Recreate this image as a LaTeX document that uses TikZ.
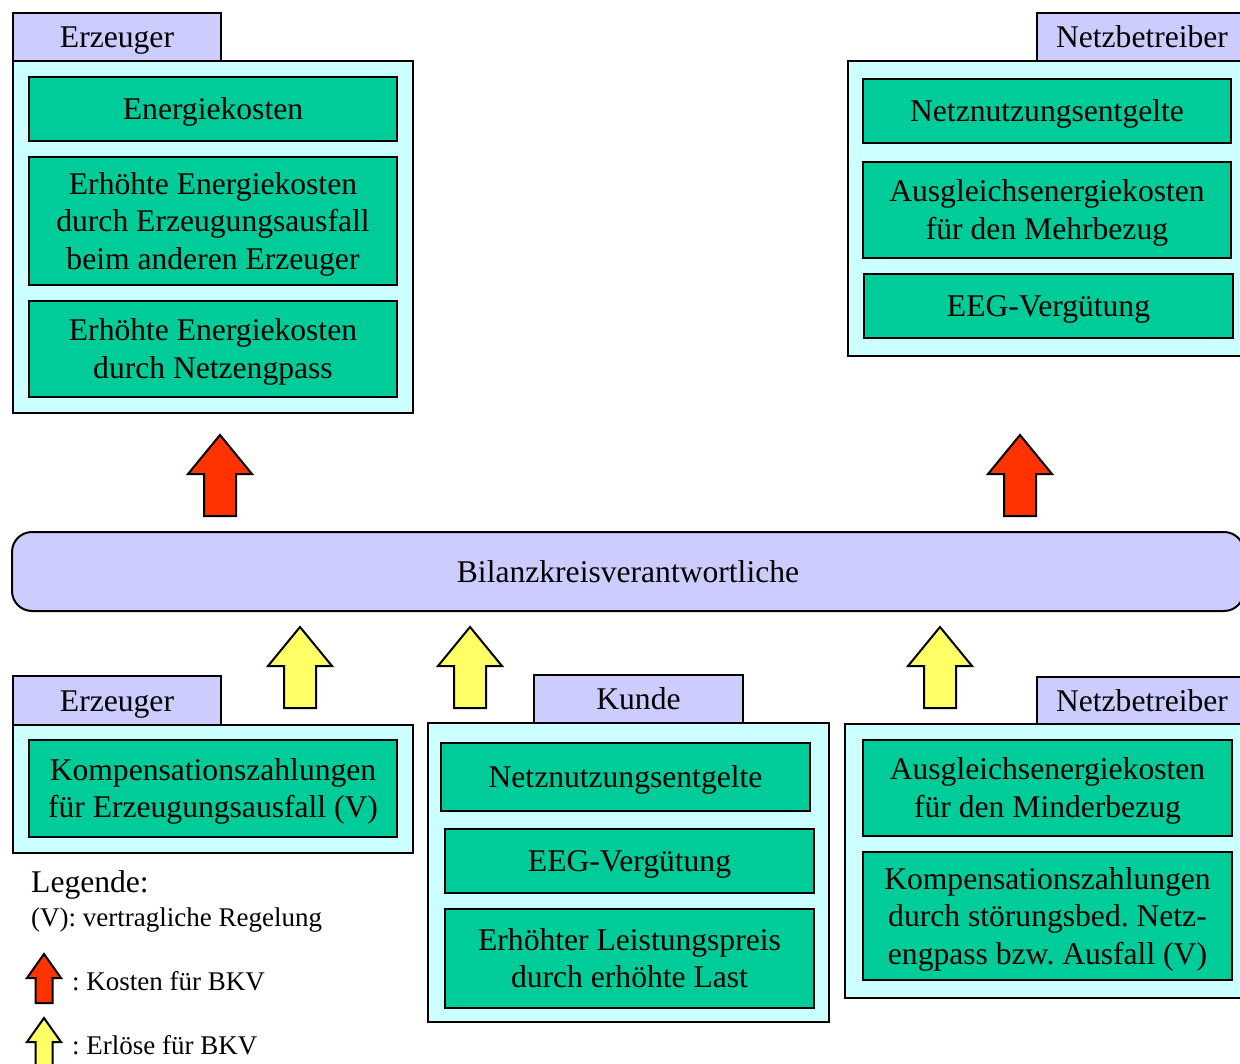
\documentclass[tikz,border=0pt]{standalone}
\usepackage{fontspec}
\setmainfont{Liberation Serif}
\frenchspacing
\definecolor{lila}{HTML}{CCCCFF}
\definecolor{hellblau}{HTML}{CCFFFF}
\definecolor{gruen}{HTML}{00CC99}
\definecolor{rot}{HTML}{FF3300}
\definecolor{gelb}{HTML}{FFFF66}
\newcommand\zeilen[1]{\rule{0pt}{0.891em}#1\rule[-0.216em]{0pt}{0pt}}
\tikzset{
  zeile/.style={execute at begin node={\rule{0pt}{0.891em}}, execute at end node={\rule[-0.216em]{0pt}{0pt}}},
  reiter/.style={draw, line width=2pt, fill=lila, anchor=north west, inner sep=0pt, zeile,
    font=\fontsize{31.6}{37.5}\selectfont},
  rahmen/.style={draw, line width=2pt, fill=hellblau, anchor=north west, inner sep=0pt},
  feld/.style={draw, line width=2pt, fill=gruen, anchor=north west, inner sep=0pt, align=center,
    font=\fontsize{31.6}{37.5}\selectfont},
  balken/.style={draw, line width=2pt, fill=lila, rounded corners=20pt, inner sep=0pt, zeile,
    font=\fontsize{31.6}{37.5}\selectfont},
  kosten/.style={draw, line width=2pt, fill=rot, line join=miter},
  erloes/.style={draw, line width=2pt, fill=gelb, line join=miter},
  legende/.style={anchor=west, inner sep=0pt, zeile, font=\fontsize{27}{32}\selectfont}
}
\begin{document}
\begin{tikzpicture}[x=1pt, y=-1pt]
  \useasboundingbox (0,0) rectangle (1240,1064);
  \clip (0,0) rectangle (1240,1064);
      %Erzeuger oben
  \node[reiter, minimum width=208pt, minimum height=48pt] (erzT) at (12,12) {Erzeuger};
  \node[rahmen, minimum width=400pt, minimum height=352pt] (erzR) at (12,60) {};
  \node[feld, minimum width=368pt, minimum height=64pt] (ek) at (28,76) {\zeilen{Energiekosten}};
  \node[feld, minimum width=368pt, minimum height=128pt] (ekA) at (28,156) {\zeilen{Erhöhte Energiekosten\\durch Erzeugungsausfall\\beim anderen Erzeuger}};
  \node[feld, minimum width=368pt, minimum height=96pt] (ekN) at (28,300) {\zeilen{Erhöhte Energiekosten\\durch Netzengpass}};
      %Netzbetreiber oben
  \node[reiter, minimum width=210pt, minimum height=48pt] (nbT) at (1036,12) {Netzbetreiber};
  \node[rahmen, minimum width=400pt, minimum height=295pt] (nbR) at (847,60) {};
  \node[feld, minimum width=368pt, minimum height=64pt] (nne) at (862,78) {\zeilen{Netznutzungsentgelte}};
  \node[feld, minimum width=368pt, minimum height=96pt] (ausM) at (862,161) {\zeilen{Ausgleichsenergiekosten\\für den Mehrbezug}};
  \node[feld, minimum width=369pt, minimum height=64pt] (eeg) at (863,273) {\zeilen{EEG-Vergütung}};
      %Pfeile Kosten
  \foreach \x in {220,1020}
    \draw[kosten] ({\x-16},516) -- ++(0,-42) -- ++(-16,0) -- (\x,435) -- ++(32,39) -- ++(-16,0) -- ++(0,42) -- cycle;
      %Bilanzkreisverantwortliche
  \node[balken, minimum width=1232pt, minimum height=79pt] (bkv) at (628,571.5) {Bilanzkreisverantwortliche};
      %Pfeile Erloese
  \foreach \x in {300,470,940}
    \draw[erloes] ({\x-16},708) -- ++(0,-42) -- ++(-16,0) -- (\x,627) -- ++(32,39) -- ++(-16,0) -- ++(0,42) -- cycle;
      %Erzeuger unten
  \node[reiter, minimum width=208pt, minimum height=49pt] (erzT2) at (12,675) {Erzeuger};
  \node[rahmen, minimum width=400pt, minimum height=128pt] (erzR2) at (12,724) {};
  \node[feld, minimum width=368pt, minimum height=97pt] (komp) at (28,739) {\zeilen{Kompensationszahlungen\\für Erzeugungsausfall (V)}};
      %Kunde
  \node[reiter, minimum width=209pt, minimum height=48pt] (kuT) at (533,674) {Kunde};
  \node[rahmen, minimum width=401pt, minimum height=299pt] (kuR) at (427,722) {};
  \node[feld, minimum width=369pt, minimum height=68pt] (nne2) at (440,742) {\zeilen{Netznutzungsentgelte}};
  \node[feld, minimum width=369pt, minimum height=64pt] (eeg2) at (444,828) {\zeilen{EEG-Vergütung}};
  \node[feld, minimum width=369pt, minimum height=99pt] (lp) at (444,908) {\zeilen{Erhöhter Leistungspreis\\durch erhöhte Last}};
      %Netzbetreiber unten
  \node[reiter, minimum width=210pt, minimum height=47pt] (nbT2) at (1036,676) {Netzbetreiber};
  \node[rahmen, minimum width=402pt, minimum height=274pt] (nbR2) at (844,723) {};
  \node[feld, minimum width=369pt, minimum height=96pt] (ausMi) at (862,739) {\zeilen{Ausgleichsenergiekosten\\für den Minderbezug}};
  \node[feld, minimum width=369pt, minimum height=128pt] (kompN) at (862,851) {\zeilen{Kompensationszahlungen\\durch störungsbed. Netz-\\engpass bzw. Ausfall (V)}};
      %Legende
  \node[legende, font=\fontsize{31.6}{37.5}\selectfont] (leg) at (31,882) {Legende:};
  \node[legende] (legV) at (31,917) {(V): vertragliche Regelung};
  \draw[kosten] (35.5,1003) -- (35.5,978) -- (27,978) -- (44,954) -- (61,978) -- (52.5,978) -- (52.5,1003) -- cycle;
  \node[legende] (legK) at (72,981) {: Kosten für BKV};
  \draw[erloes] (35.5,1067) -- (35.5,1042) -- (27,1042) -- (44,1018) -- (61,1042) -- (52.5,1042) -- (52.5,1067) -- cycle;
  \node[legende] (legE) at (72,1045) {: Erlöse für BKV};
\end{tikzpicture}
\end{document}
